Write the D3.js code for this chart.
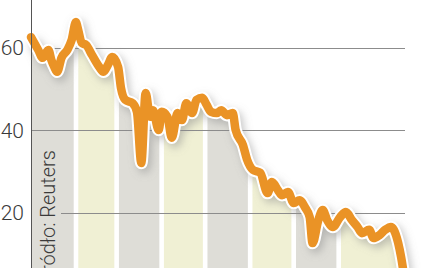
<!DOCTYPE html>
<html>
<head>
<meta charset="utf-8">
<script src="https://cdn.jsdelivr.net/npm/d3@7"></script>
<style>
  body { margin: 0; background: #fff; }
  svg { display: block; }
  text { font-family: Roboto, "Liberation Sans", sans-serif; font-weight: 300; fill: #3a3a3a; }
</style>
</head>
<body>
<svg width="439" height="268"></svg>
<script>
// days since the start date, and the price on that day
const startDate = new Date(2009, 0, 1)
const dayOffsets = [0, 5, 8, 12, 14, 16, 18, 21, 25, 28, 31, 32, 35, 38, 42, 47, 50, 53, 56, 60,
  62, 65, 70, 73, 76, 79, 82, 84, 88, 90, 94, 97, 101, 104, 107, 111, 114, 118, 121, 124,
  128, 131, 135, 139, 141, 146, 149, 153, 158, 163, 166, 170, 173, 177, 181, 185, 189, 192, 194, 198,
  201, 204, 208, 213, 217, 221, 225, 228, 233, 236, 240, 244, 248, 250, 253, 255, 257]
const prices = [62.5, 59.4, 57.5, 59.4, 57.0, 55.3, 54.1, 57.5, 59.4, 61.8, 66.2, 65.0, 61.1, 60.6, 58.2, 55.3, 54.1, 55.8, 57.7, 55.3,
  50.2, 47.3, 46.5, 44.4, 32.0, 49.0, 43.2, 44.8, 40.0, 44.4, 43.2, 38.1, 44.1, 42.4, 46.5, 44.1, 47.3, 47.8, 46.1, 44.4,
  44.1, 44.8, 43.6, 44.1, 40.0, 36.4, 32.7, 30.3, 29.6, 24.7, 27.4, 25.5, 24.2, 25.0, 22.3, 23.0, 21.1, 18.9, 12.6, 18.2,
  20.6, 18.2, 16.5, 18.9, 20.1, 18.2, 16.5, 15.0, 15.8, 13.8, 14.5, 15.8, 16.5, 15.8, 12.6, 9.2, 4.8]
const monthStarts = ['2009-01-01', '2009-02-01', '2009-03-01', '2009-04-01', '2009-05-01', '2009-06-01', '2009-07-01', '2009-08-01']
const yTicks = [20, 40, 60]
const sourceLabel = 'Źródło: Reuters'

const svg = d3.select('svg')
const width = +svg.attr('width')
const height = +svg.attr('height')
const left = 31
const right = 404
const gridRight = 405

const data = dayOffsets.map((d, i) => ({ date: d3.timeDay.offset(startDate, d), value: prices[i] }))
const lastDate = data[data.length - 1].date

const x = d3.scaleTime().domain([startDate, lastDate]).range([left, right])
const y = d3.scaleLinear().domain([20, 60]).range([212.5, 47.5])

const defs = svg.append('defs')
defs.append('filter')
    .attr('id', 'blur')
    .attr('x', '-20%').attr('y', '-20%').attr('width', '140%').attr('height', '140%')
  .append('feGaussianBlur')
    .attr('stdDeviation', 4)

const area = d3.area()
    .x(d => x(d.date))
    .y0(height + 10)
    .y1(d => y(d.value))
    .curve(d3.curveMonotoneX)

defs.append('clipPath')
    .attr('id', 'under')
  .append('path')
    .attr('d', area(data))

// month bands, alternating grey / pale yellow, only under the line
const bandColor = d3.scaleOrdinal(['#deddd7', '#f0f0d4'])
const months = monthStarts.map(s => d3.timeParse('%Y-%m-%d')(s))
const gap = 2.3
svg.append('g')
    .attr('clip-path', 'url(#under)')
  .selectAll('rect')
  .data(months)
  .enter().append('rect')
    .attr('x', (d, i) => i === 0 ? x(d) : x(d) + gap)
    .attr('y', 0)
    .attr('width', (d, i) => {
      const x0 = i === 0 ? x(d) : x(d) + gap
      const x1 = i === months.length - 1 ? width : x(months[i + 1]) - gap
      return x1 - x0
    })
    .attr('height', height)
    .attr('fill', (d, i) => bandColor(i % 2))

// gridlines + tick labels
const grid = svg.append('g')
grid.selectAll('line')
  .data(yTicks)
  .enter().append('line')
    .attr('x1', left)
    .attr('x2', gridRight)
    .attr('y1', d => Math.round(y(d)) + 0.5)
    .attr('y2', d => Math.round(y(d)) + 0.5)
    .attr('stroke', '#8c8c8c')
    .attr('stroke-width', 1)

grid.selectAll('text')
  .data(yTicks)
  .enter().append('text')
    .attr('x', 24)
    .attr('y', d => y(d))
    .attr('dy', '0.36em')
    .attr('text-anchor', 'end')
    .attr('font-size', 21)
    .text(d => d)

// source note, knocked out of the gridline
svg.append('rect')
    .attr('x', left + 1)
    .attr('y', 150)
    .attr('width', 29)
    .attr('height', height - 150)
    .attr('fill', bandColor(0))

svg.append('text')
    .attr('transform', 'translate(55,150) rotate(-90)')
    .attr('text-anchor', 'end')
    .attr('font-size', 20)
    .attr('fill', '#4a4a4a')
    .text(sourceLabel)

const line = d3.line()
    .x(d => x(d.date))
    .y(d => y(d.value))
    .curve(d3.curveMonotoneX)

svg.append('path')
    .attr('d', line(data))
    .attr('transform', 'translate(3,4)')
    .attr('fill', 'none')
    .attr('stroke', '#8a8a8a')
    .attr('stroke-opacity', 0.5)
    .attr('stroke-width', 12)
    .attr('filter', 'url(#blur)')

svg.append('path')
    .attr('d', line(data))
    .attr('fill', 'none')
    .attr('stroke', '#fff')
    .attr('stroke-width', 12.5)
    .attr('stroke-linejoin', 'round')
    .attr('stroke-linecap', 'round')

svg.append('path')
    .attr('d', line(data))
    .attr('fill', 'none')
    .attr('stroke', '#ea9326')
    .attr('stroke-width', 8.5)
    .attr('stroke-linejoin', 'round')
    .attr('stroke-linecap', 'round')

// vertical axis line
svg.append('line')
    .attr('x1', left + 0.5)
    .attr('x2', left + 0.5)
    .attr('y1', 0)
    .attr('y2', height)
    .attr('stroke', '#555')
    .attr('stroke-width', 1)
</script>
</body>
</html>
